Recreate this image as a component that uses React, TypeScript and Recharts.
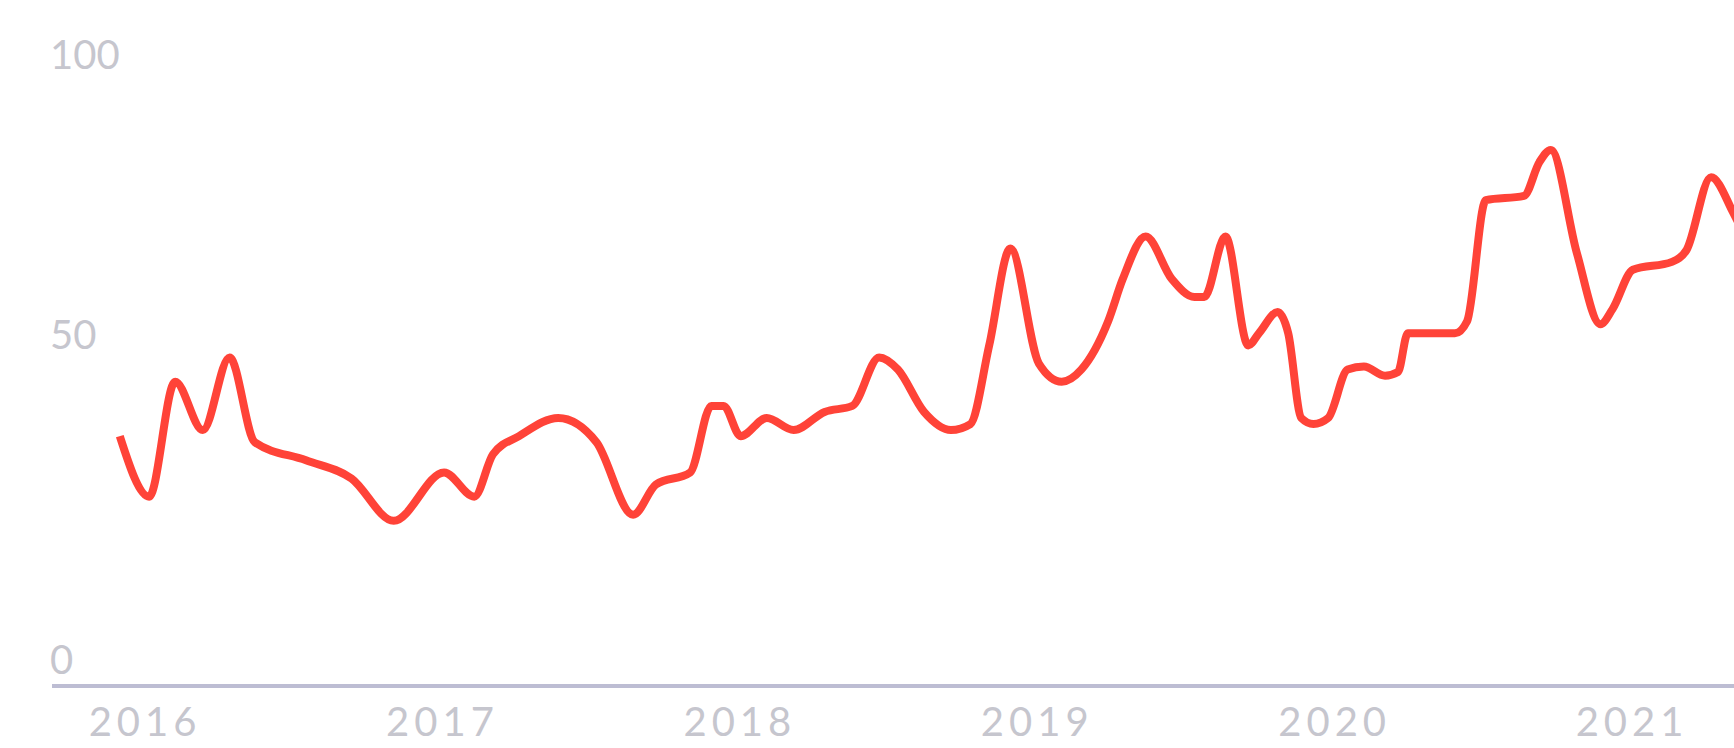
import React from 'react';
import { LineChart, Line, XAxis, YAxis } from 'recharts';

// points (date, interest 0-100)
const dates = [
  '2015-12-01', '2016-01-06', '2016-02-07', '2016-03-12', '2016-04-14', '2016-05-15',
  '2016-07-17', '2016-09-11', '2016-11-02', '2017-01-03', '2017-02-09', '2017-03-04',
  '2017-04-05', '2017-05-23', '2017-07-09', '2017-08-23', '2017-09-20', '2017-11-01',
  '2017-11-27', '2017-12-12', '2018-01-02', '2018-02-03', '2018-03-08', '2018-04-15',
  '2018-05-19', '2018-06-21', '2018-07-14', '2018-08-15', '2018-09-17', '2018-10-11',
  '2018-11-03', '2018-11-29', '2019-01-03', '2019-01-31', '2019-02-24', '2019-03-29',
  '2019-04-16', '2019-05-14', '2019-06-15', '2019-07-13', '2019-07-25', '2019-08-20',
  '2019-09-17', '2019-09-30', '2019-10-23', '2019-11-05', '2019-11-21', '2019-12-06',
  '2019-12-24', '2020-01-17', '2020-02-06', '2020-03-03', '2020-03-19', '2020-03-31',
  '2020-05-28', '2020-06-12', '2020-07-05', '2020-08-21', '2020-09-09', '2020-09-23',
  '2020-10-25', '2020-11-23', '2020-12-08', '2021-01-02', '2021-02-19', '2021-03-09',
  '2021-04-08', '2021-05-05', '2021-06-01',
];

const interest = [
  37, 27, 46, 38, 50, 36,
  33, 30, 23, 31, 27, 34,
  37, 40, 36, 24, 29, 31,
  42, 42, 37, 40, 38, 41,
  42, 50, 48, 41, 38, 39,
  52, 68, 49, 46, 48, 56,
  63, 70, 63, 60, 60, 70,
  52, 54, 57.5, 54, 40, 39,
  40, 48, 48.5, 47, 47.6, 54,
  54, 56, 76, 76.7, 82.3, 84.3,
  67.3, 55.5, 58, 64.5, 65.8, 67.8,
  79.8, 74, 66,
];

const yearTicks = [2016, 2017, 2018, 2019, 2020, 2021];
const valueTicks = [0, 50, 100];

const toYear = (iso: string) => {
  const [y, m, d] = iso.split('-').map(Number);
  const start = Date.UTC(y, 0, 1);
  const end = Date.UTC(y + 1, 0, 1);
  return y + (Date.UTC(y, m - 1, d) - start) / (end - start);
};

const data = dates.map((d, i) => ({ x: toYear(d), value: interest[i] }));

const labelColor = '#c6c6ce';
const font = 'Lato, "Open Sans", sans-serif';
const labelNudge: Record<number, number> = { 50: -23 };

const YTick = ({ y, payload }: any) => (
  <text
    x={50}
    y={y + (labelNudge[payload.value] || 0)}
    dy="0.36em"
    fill={labelColor}
    fontSize={40}
    fontFamily={font}
    textAnchor="start"
  >
    {payload.value}
  </text>
);

const XTick = ({ x, y, payload }: any) => (
  <text
    x={x}
    y={y}
    dy="0.71em"
    fill={labelColor}
    fontSize={40}
    fontFamily={font}
    letterSpacing={5}
    textAnchor="middle"
  >
    {payload.value}
  </text>
);

export default function App() {
  return (
    <div
      style={{
        position: 'absolute',
        left: 0,
        top: 0,
        width: 1734,
        height: 748,
        overflow: 'hidden',
        background: '#fff',
      }}
    >
      <LineChart
        width={1820}
        height={748}
        data={data}
        margin={{ top: 55, right: 0, bottom: 0, left: 0 }}
      >
        <XAxis
          dataKey="x"
          type="number"
          domain={[2015.687, 2021.632]}
          ticks={yearTicks}
          height={62}
          tickLine={false}
          tickMargin={16}
          axisLine={{ stroke: '#bdbdd3', strokeWidth: 4 }}
          tick={<XTick />}
          allowDataOverflow
        />
        <YAxis
          type="number"
          domain={[-4.3, 100]}
          ticks={valueTicks}
          width={52}
          axisLine={false}
          tickLine={false}
          tick={<YTick />}
          allowDataOverflow
        />
        <Line
          type="monotone"
          dataKey="value"
          stroke="#ff4338"
          strokeWidth={8}
          dot={false}
          activeDot={false}
          isAnimationActive={false}
        />
      </LineChart>
    </div>
  );
}
